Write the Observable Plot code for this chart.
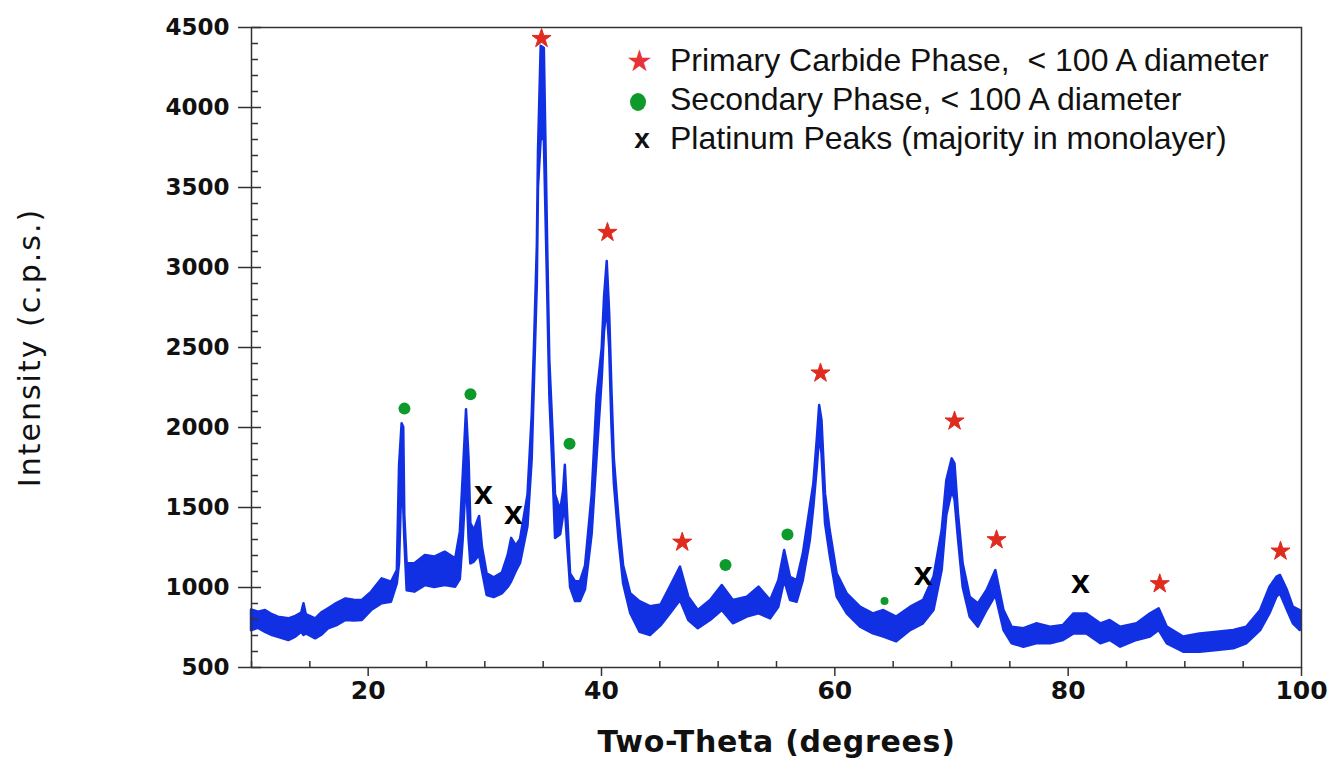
<!DOCTYPE html>
<html>
<head>
<meta charset="utf-8">
<script src="https://cdn.jsdelivr.net/npm/d3@7"></script>
<script src="https://cdn.jsdelivr.net/npm/@observablehq/plot@0.6"></script>
<style>
  html, body { margin: 0; padding: 0; background: #fff; }
  #wrap { position: relative; width: 1336px; height: 776px; }
  #legend { position: absolute; left: 626px; top: 41px; font-family: "Liberation Sans", Arial, sans-serif; font-size: 32px; color: #111; }
  #legend .row { height: 39px; line-height: 39px; white-space: pre; display: flex; align-items: center; }
  #legend .sym { width: 24px; margin-right: 20px; text-align: center; display: inline-block; }
</style>
</head>
<body>
<div id="wrap">
  <div id="chart"></div>
  <div id="legend">
    <div class="row"><span class="sym" style="color:#e8323a;font-family:'DejaVu Sans';font-size:30px">★</span><span>Primary Carbide Phase,  &lt; 100 A diameter</span></div>
    <div class="row"><span class="sym"><svg width="18" height="20" style="vertical-align:middle"><ellipse cx="9" cy="10" rx="8" ry="9" fill="#0e9a2a"/></svg></span><span>Secondary Phase, &lt; 100 A diameter</span></div>
    <div class="row"><span class="sym" style="font-weight:bold;padding-left:4px;font-size:28px">x</span><span style="margin-left:-4px">Platinum Peaks (majority in monolayer)</span></div>
  </div>
</div>
<script>
// Two-theta positions and the lower / upper edge of the noisy intensity trace
const theta = [10.0,10.6,11.2,11.8,12.3,13.2,13.8,14.3,14.5,14.7,15.5,16.0,16.6,17.3,18.1,18.8,19.5,20.3,21.2,22.0,22.5,22.69,22.91,23.05,23.14,23.34,24.0,24.9,25.7,26.6,27.5,27.9,28.15,28.43,28.65,28.8,29.1,29.55,29.8,30.2,30.8,31.5,32.0,32.3,32.7,33.06,33.7,34.06,34.26,34.5,34.6,34.83,35.1,35.4,35.57,35.86,36.06,36.5,36.75,36.9,37.07,37.35,37.77,38.2,38.63,39.2,39.63,40.06,40.26,40.49,40.7,40.9,41.1,41.5,41.9,42.5,43.3,44.2,45.1,45.9,46.77,47.48,48.3,49.35,50.35,51.3,52.5,53.5,54.5,55.2,55.7,56.2,56.77,57.3,57.9,58.2,58.5,58.7,58.9,59.2,59.6,60.2,61.06,62.2,63.3,64.2,65.3,66.5,67.6,68.5,69.2,69.6,70.06,70.3,70.6,71.0,71.6,72.3,73.05,73.8,74.5,75.2,76.2,77.3,78.5,79.6,80.5,81.6,82.8,83.6,84.5,85.9,87.06,87.8,88.5,89.9,91.3,92.8,94.2,95.3,96.5,97.3,97.9,98.2,98.8,99.3,99.9];
const intensityLow = [730,745,720,700,689,668,690,720,700,710,679,700,742,760,794,790,794,856,898,908,1023,1150,1700,1500,1300,980,971,1012,1000,1012,1002,1050,1300,1700,1300,1147,1159,1200,1100,950,937,960,1000,1036,1100,1150,1382,1800,2300,2900,3500,3800,3800,2800,2200,1700,1307,1330,1450,1500,1300,1000,912,912,986,1332,1826,2300,2600,2750,2500,2000,1650,1300,1020,838,720,700,760,835,919,794,742,794,856,773,815,835,804,877,1043,919,908,1043,1294,1500,1750,1950,1835,1400,1200,940,835,752,710,690,660,731,773,856,1106,1450,1600,1550,1300,1000,815,752,856,950,731,648,627,648,648,669,710,710,648,669,627,669,690,731,648,596,596,606,617,648,731,836,940,960,856,773,731];
const intensityHigh = [860,845,856,830,814,804,820,840,898,830,804,840,867,900,929,920,919,971,1054,1033,1106,1760,2023,2000,1450,1150,1148,1200,1190,1221,1179,1346,1700,2111,1800,1400,1357,1444,1250,1085,1060,1090,1200,1307,1260,1300,1579,2073,2518,3135,3729,4383,4370,3086,2419,1950,1579,1480,1600,1764,1500,1085,1036,1036,1134,1579,2197,2494,2814,3037,2716,2222,1802,1431,1134,962,912,880,890,1002,1127,940,856,919,1012,919,940,1002,919,1043,1231,1064,1043,1210,1502,1648,1929,2137,2044,1585,1356,1085,960,877,835,856,815,877,919,1065,1356,1669,1804,1773,1460,1148,940,898,981,1106,856,752,742,773,752,763,835,835,773,794,752,773,836,867,752,690,710,721,731,752,856,1002,1065,1075,981,877,856];

// Peak annotations
const primaryTheta = [34.86,40.51,46.92,58.77,70.26,73.86,87.85,98.2];
const primaryY     = [4431,3219,1283,2340,2040,1298,1023,1227];
const secondaryTheta = [23.11,28.77,37.26,50.63,55.94];
const secondaryY     = [2118,2208,1898,1140,1331];
const secondaryMinorTheta = [64.26];
const secondaryMinorY     = [916];
const platinumTheta = [29.89,32.46,67.57,81.06];
const platinumY     = [1592,1463,1081,1033];

// Axis ticks
const xMajor = [20,40,60,80,100];
const xMinor = [10,15,25,30,35,45,50,55,65,70,75,85,90,95];
const yMajor = [500,1000,1500,2000,2500,3000,3500,4000,4500];
const yMinor = d3.range(600, 4500, 100).filter(v => v % 500 !== 0);

const yTitle = "Intensity (c.p.s.)";
const xTitle = "Two-Theta (degrees)";

const trace = theta.map((t, i) => ({t, lo: intensityLow[i], hi: intensityHigh[i]}));
const prim = primaryTheta.map((t, i) => ({t, v: primaryY[i]}));
const sec = secondaryTheta.map((t, i) => ({t, v: secondaryY[i]}));
const secMinor = secondaryMinorTheta.map((t, i) => ({t, v: secondaryMinorY[i]}));
const plat = platinumTheta.map((t, i) => ({t, v: platinumY[i]}));

const W = 1336, H = 776, mL = 251, mR = 35, mT = 27, mB = 109;
const frameW = W - mL - mR, frameH = H - mT - mB;
const axisColor = "#333";
const blue = "#1230e3";

const chart = Plot.plot({
  width: W, height: H,
  marginLeft: mL, marginRight: mR, marginTop: mT, marginBottom: mB,
  style: {fontFamily: "'DejaVu Sans', Verdana, sans-serif", background: "#fff", color: "#111"},
  x: {domain: [10, 100]},
  y: {domain: [500, 4500]},
  marks: [
    Plot.areaY(trace, {x: "t", y1: "lo", y2: "hi", fill: blue, stroke: blue, strokeWidth: 2.5, strokeLinejoin: "round"}),
    Plot.frame({stroke: axisColor, strokeWidth: 1.5}),
    Plot.axisX({ticks: xMajor, tickSize: 9, tickPadding: 5, fontSize: 25, fontWeight: "bold", label: null, stroke: axisColor, strokeWidth: 1.5, tickFormat: d => String(d)}),
    Plot.tickX(xMinor, {x: d => d, insetTop: frameH - 6, stroke: axisColor, strokeWidth: 1.5}),
    Plot.axisY({ticks: yMajor, tickSize: 13, tickPadding: 9, fontSize: 23, fontWeight: "bold", label: null, stroke: axisColor, strokeWidth: 1.5, tickFormat: d => String(d)}),
    Plot.tickY(yMajor, {y: d => d, insetRight: frameW - 10, stroke: axisColor, strokeWidth: 1.5}),
    Plot.tickY(yMinor, {y: d => d, insetRight: frameW - 7, stroke: axisColor, strokeWidth: 1.5}),
    Plot.dot(prim, {x: "t", y: "v", symbol: "star", r: 6, fill: "#e02b1f", stroke: "#e02b1f", strokeWidth: 1}),
    Plot.dot(sec, {x: "t", y: "v", r: 6, fill: "#0e9a2a"}),
    Plot.dot(secMinor, {x: "t", y: "v", r: 4, fill: "#0e9a2a"}),
    Plot.text(plat, {x: "t", y: "v", text: () => "x", fontSize: 34, fontWeight: "bold", fill: "#000", fontFamily: "'Liberation Sans', Arial, sans-serif"}),
    Plot.text([yTitle], {frameAnchor: "left", textAnchor: "middle", dx: -221, rotate: -90, fontSize: 30, fill: "#111"}),
    Plot.text([xTitle], {frameAnchor: "bottom", textAnchor: "middle", dy: 84, fontSize: 30, fontWeight: "bold", fill: "#111"})
  ]
});
// widen the axis titles' letter spacing
d3.select(chart).selectAll("text").each(function() {
  const t = this.textContent;
  if (t === yTitle) this.setAttribute("letter-spacing", "2");
  if (t === xTitle) this.setAttribute("letter-spacing", "0.7");
});
document.getElementById("chart").appendChild(chart);
</script>
</body>
</html>
